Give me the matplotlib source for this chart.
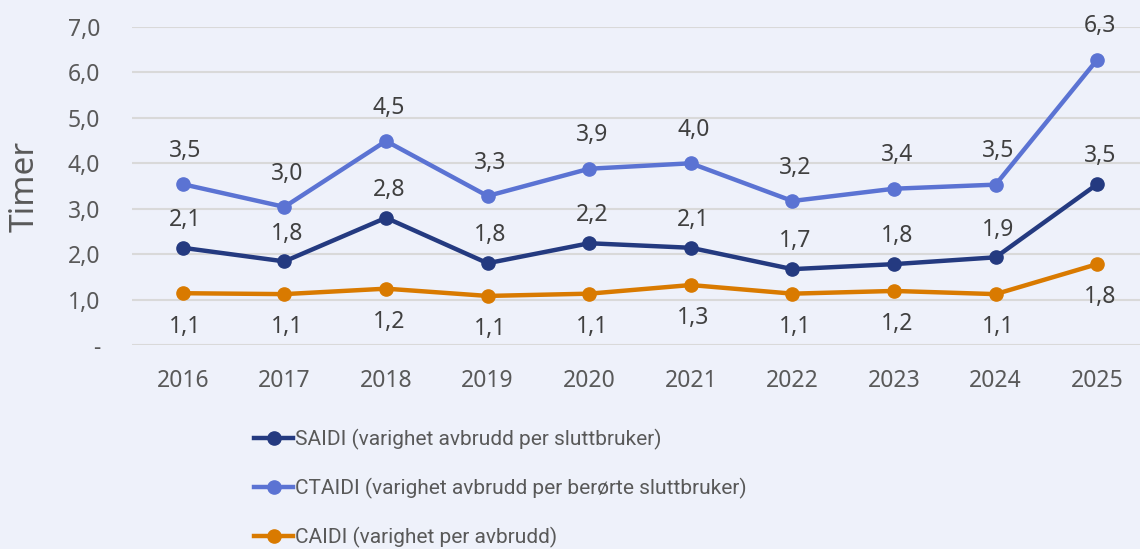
"""Leveringskvalitet: SAIDI, CTAIDI og CAIDI per år."""

import matplotlib.pyplot as plt
from matplotlib.lines import Line2D

years = ["2016", "2017", "2018", "2019", "2020", "2021", "2022", "2023", "2024", "2025"]
saidi = [2.14, 1.84, 2.80, 1.80, 2.24, 2.14, 1.67, 1.78, 1.93, 3.54]
ctaidi = [3.54, 3.04, 4.49, 3.28, 3.88, 4.00, 3.17, 3.44, 3.53, 6.28]
caidi = [1.14, 1.12, 1.24, 1.08, 1.13, 1.32, 1.13, 1.19, 1.12, 1.78]

series_names = [
    "SAIDI (varighet avbrudd per sluttbruker)",
    "CTAIDI (varighet avbrudd per berørte sluttbruker)",
    "CAIDI (varighet per avbrudd)",
]
y_ticks = [0, 1, 2, 3, 4, 5, 6, 7]
y_tick_labels = ["-", "1,0", "2,0", "3,0", "4,0", "5,0", "6,0", "7,0"]

BG = "#EEF1FA"
GRID = "#D9D9D9"
TEXT = "#404040"
colors = ["#243A80", "#5B73D3", "#D97A00"]

plt.rcParams["font.family"] = ["Noto Sans", "DejaVu Sans"]


def fmt(v):
    return f"{v:.1f}".replace(".", ",")


def main() -> None:
    fig = plt.figure(figsize=(11.4, 5.49), dpi=100, facecolor=BG)
    W, H = 1140, 549
    ax = fig.add_axes([132 / W, (H - 345) / H, (1148 - 132) / W, 318 / H])
    ax.set_facecolor(BG)

    x = list(range(len(years)))
    label_offsets = [20, 24, -24]  # points above (+) / below (-) the marker
    for vals, color, name, off in zip([saidi, ctaidi, caidi], colors, series_names, label_offsets):
        ax.plot(x, vals, color=color, lw=3.2, marker="o", ms=9.5, label=name,
                solid_capstyle="round", zorder=3)
        for xi, v in zip(x, vals):
            ax.annotate(fmt(v), (xi, v), xytext=(2, off), textcoords="offset points",
                        ha="center", va="center", fontsize=16.5, color=TEXT, zorder=4)

    ax.set_xlim(-0.5, len(years) - 0.5)
    ax.set_ylim(0, 7)
    ax.set_xticks(x)
    ax.set_xticklabels(years)
    ax.set_yticks(y_ticks)
    ax.set_yticklabels(y_tick_labels)
    ax.tick_params(axis="both", length=0, labelsize=16.5, labelcolor="#595959")
    ax.tick_params(axis="y", pad=23)
    ax.tick_params(axis="x", pad=17)
    ax.grid(axis="y", color=GRID, lw=1.5)
    ax.set_axisbelow(True)
    for s in ax.spines.values():
        s.set_visible(False)

    fig.text(25 / W, 1 - 186 / H, "Timer", rotation=90, ha="center", va="center",
             fontsize=24, color="#595959", fontweight="light")

    handles = [Line2D([], [], color=c, lw=3.2, marker="o", ms=9.5) for c in colors]
    fig.legend(handles, series_names, loc="upper left",
               bbox_to_anchor=(246 / W, 1 - 421 / H), frameon=False,
               prop={"family": ["Roboto", "Noto Sans"], "size": 15},
               labelcolor="#595959", handlelength=1.85,
               handletextpad=0.1, labelspacing=1.33, borderaxespad=0)

    fig.savefig("out.png", dpi=100, facecolor=BG)


if __name__ == "__main__":
    main()
